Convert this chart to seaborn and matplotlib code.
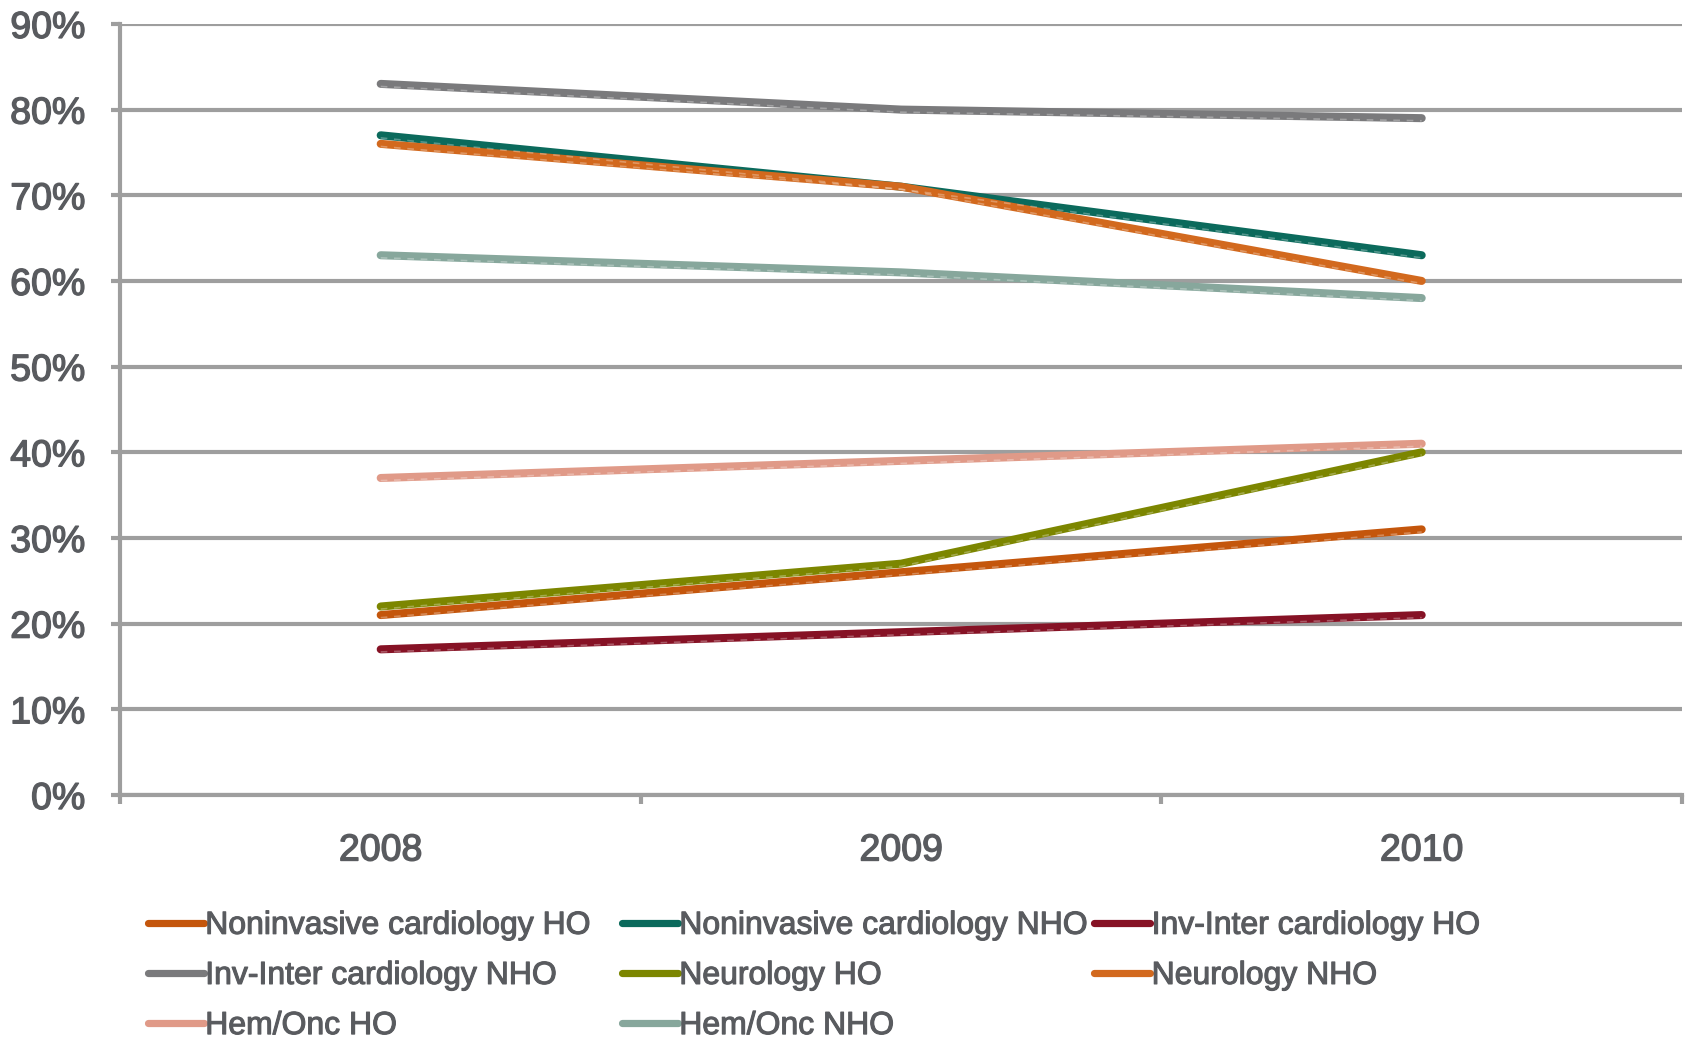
import matplotlib
matplotlib.use("Agg")
import matplotlib.pyplot as plt
import matplotlib.patheffects as pe
import matplotlib.transforms as mtransforms
import seaborn as sns
import pandas as pd
from matplotlib.lines import Line2D
from matplotlib.ticker import FixedLocator, PercentFormatter

years = ["2008", "2009", "2010"]
series_names = [
    "Noninvasive cardiology HO",
    "Noninvasive cardiology NHO",
    "Inv-Inter cardiology HO",
    "Inv-Inter cardiology NHO",
    "Neurology HO",
    "Neurology NHO",
    "Hem/Onc HO",
    "Hem/Onc NHO",
]
noninv_ho = [21, 26, 31]
noninv_nho = [77, 71, 63]
invinter_ho = [17, 19, 21]
invinter_nho = [83, 80, 79]
neuro_ho = [22, 27, 40]
neuro_nho = [76, 71, 60]
hemonc_ho = [37, 39, 41]
hemonc_nho = [63, 61, 58]
series_values = [noninv_ho, noninv_nho, invinter_ho, invinter_nho,
                 neuro_ho, neuro_nho, hemonc_ho, hemonc_nho]
colors = ["#C4560C", "#0B6A5C", "#861225", "#7A7A7C",
          "#7C8600", "#D2691E", "#E09A88", "#87A79C"]

rows = []
for name, vals in zip(series_names, series_values):
    for y, v in zip(years, vals):
        rows.append({"Year": y, "Share": v, "Series": name})
df = pd.DataFrame(rows)

sns.set_theme(style="white")
plt.rcParams["font.family"] = ["Liberation Sans", "DejaVu Sans"]

fig = plt.figure(figsize=(16.87, 10.40), dpi=100)
ax = fig.add_axes([0.0714, 0.2356, 0.9256, 0.7414])

grid_c = "#9E9E9E"
text_c = "#595B5F"
text_fx = [pe.withStroke(linewidth=1.0, foreground=text_c)]
grid_lw = 3.0

ax.yaxis.set_major_locator(FixedLocator(range(0, 100, 10)))
ax.grid(axis="y", color=grid_c, lw=grid_lw, zorder=1)
ax.set_axisbelow(True)

palette = dict(zip(series_names, colors))
sns.lineplot(data=df, x="Year", y="Share", hue="Series", palette=palette,
             hue_order=series_names, sort=False, linewidth=5.8, ax=ax,
             legend=False, zorder=3)

# faint lighter dashes along the lower edge of each line
shift = mtransforms.offset_copy(ax.transData, fig=fig, x=0, y=-2.6, units="dots")
data_lines = list(ax.lines)
for ln in data_lines:
    ln.set_linewidth(5.8)
    ln.set_solid_capstyle("round")
    ln.set_solid_joinstyle("round")
    xy = ln.get_xydata()
    ax.plot(xy[:, 0], xy[:, 1], color="white", alpha=0.3, lw=1.2,
            ls=(0, (4, 4)), transform=shift, zorder=4)

ax.set_xlim(-0.5, 2.5)
ax.set_ylim(0, 90)
ax.set_xlabel("")
ax.set_ylabel("")

for side in ["top", "right"]:
    ax.spines[side].set_visible(False)
for side in ["left", "bottom"]:
    ax.spines[side].set_color(grid_c)
    ax.spines[side].set_linewidth(grid_lw)

ax.yaxis.set_major_formatter(PercentFormatter(decimals=0))
ax.tick_params(axis="y", which="major", left=True, length=6.2, width=grid_lw,
               color=grid_c, labelsize=27, labelcolor=text_c, pad=19)

ax.set_xticks([0, 1, 2])
ax.set_xticklabels(years)
ax.set_xticks([-0.5, 0.5, 1.5, 2.5], minor=True)
ax.tick_params(axis="x", which="major", bottom=False, length=0, labelsize=27,
               labelcolor=text_c, pad=27)
ax.tick_params(axis="x", which="minor", bottom=True, length=6.5, width=grid_lw,
               color=grid_c)

for lab in ax.get_yticklabels() + ax.get_xticklabels():
    lab.set_path_effects(text_fx)

# legend laid out as three evenly spaced columns
handles = [Line2D([0], [0], color=c, lw=5.2, solid_capstyle="round") for c in colors]
columns = [[0, 3, 6], [1, 4, 7], [2, 5]]
col_x = [0.080, 0.361, 0.641]
for cx, idx in zip(col_x, columns):
    leg = fig.legend([handles[i] for i in idx], [series_names[i] for i in idx],
                     loc="upper left", bbox_to_anchor=(cx, 0.1365),
                     frameon=False, fontsize=23, handlelength=1.75,
                     handletextpad=0.05, labelspacing=0.63, borderaxespad=0)
    for t in leg.get_texts():
        t.set_color(text_c)
        t.set_path_effects([pe.withStroke(linewidth=0.8, foreground=text_c)])

fig.savefig("out.png", dpi=100)
